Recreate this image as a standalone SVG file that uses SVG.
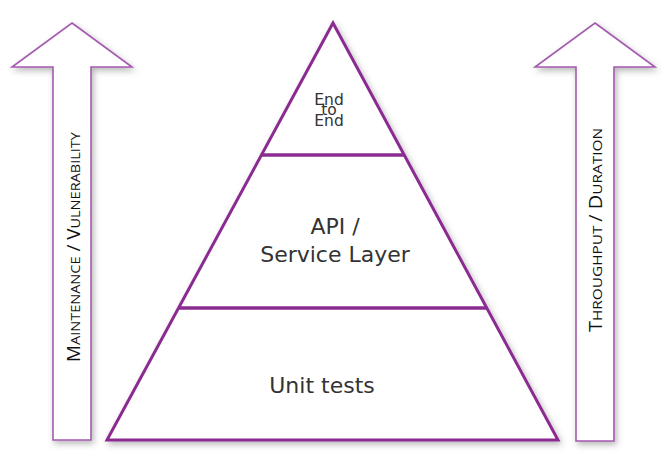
<svg xmlns="http://www.w3.org/2000/svg" width="672" height="476" viewBox="0 0 672 476">
<defs>
<filter id="sh" x="-20%" y="-20%" width="140%" height="140%">
<feDropShadow dx="2" dy="3" stdDeviation="3" flood-color="#000" flood-opacity="0.28"/>
</filter>
</defs>
<style>
.arrow{fill:#fff;stroke:#a45aae;stroke-width:1.6;stroke-linejoin:miter}
.pyr{fill:#fff;stroke:#8b2c91;stroke-width:3;stroke-linejoin:miter}
.sep{stroke:#8b2c91;stroke-width:3.5;fill:none}
.lbl{font-family:"DejaVu Sans",sans-serif;fill:#333;text-anchor:middle}
.side{font-family:"Open Sans",sans-serif;fill:#111;text-anchor:middle}
</style>
<rect width="672" height="476" fill="#fff"/>
<g id="left-arrow">
<polygon class="arrow" filter="url(#sh)" points="72,23 132,67 91,67 91,440 53,440 53,67 12,67"/>
<text class="side" transform="translate(80,247) rotate(-90)" textLength="230" lengthAdjust="spacingAndGlyphs"><tspan font-size="17.5">M</tspan><tspan font-size="13.5">AINTENANCE</tspan><tspan font-size="17.5"> / V</tspan><tspan font-size="13.5">ULNERABILITY</tspan></text>
</g>
<g id="right-arrow">
<polygon class="arrow" filter="url(#sh)" points="595,23 655,67 614,67 614,441 576,441 576,67 535,67"/>
<text class="side" transform="translate(602,230) rotate(-90)" textLength="204" lengthAdjust="spacingAndGlyphs"><tspan font-size="17.5">T</tspan><tspan font-size="13.5">HROUGHPUT </tspan><tspan font-size="17.5"> / D</tspan><tspan font-size="13.5">URATION</tspan></text>
</g>
<g id="pyramid">
<polygon class="pyr" filter="url(#sh)" points="333,23 558,440 107,440"/>
</g>
<g id="connectors">
<line class="sep" x1="262" y1="155" x2="404" y2="155"/>
<line class="sep" x1="179" y1="308" x2="486" y2="308"/>
</g>
<g id="end-to-end">
<text class="lbl" font-size="15.5" x="329" y="105">End</text>
<text class="lbl" font-size="15.5" x="329" y="115">to</text>
<text class="lbl" font-size="15.5" x="329" y="126">End</text>
</g>
<g id="api-layer">
<text class="lbl" font-size="22" x="335" y="234">API /</text>
<text class="lbl" font-size="22" x="335" y="262">Service Layer</text>
</g>
<g id="unit-tests">
<text class="lbl" font-size="22" x="322" y="393">Unit tests</text>
</g>
</svg>
